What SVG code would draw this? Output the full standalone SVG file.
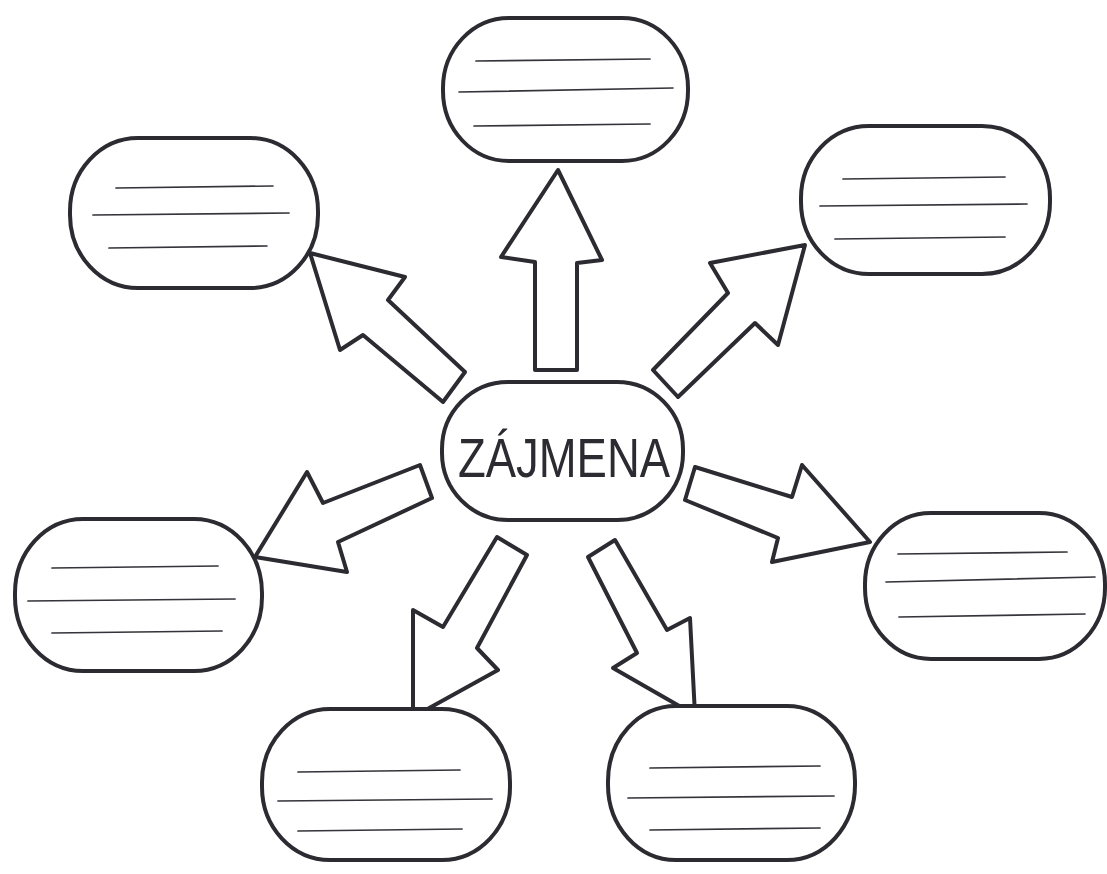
<svg xmlns="http://www.w3.org/2000/svg" width="1107" height="874" viewBox="0 0 1107 874">
  <style>
    .bubble { fill: #ffffff; stroke: #2b2b31; stroke-width: 4; }
    .rule { stroke: #34343a; stroke-width: 1.7; stroke-linecap: round; fill: none; }
    .arrow { fill: #ffffff; stroke: #2b2b31; stroke-width: 4; stroke-linejoin: round; }
    .title { font-family: "Liberation Sans", "DejaVu Sans", sans-serif; font-size: 56px; fill: #2b2b31; }
  </style>
  <rect width="1107" height="874" fill="#ffffff"/>

  <!-- block arrows radiating from the centre -->
  <g id="connectors">
    <polygon class="arrow" points="558,170 602,260 577,263 577,370 535,370 535,262 501,257"/>
    <polygon class="arrow" points="310,253 405,277 388,300 465,372 443,402 363,335 340,350"/>
    <polygon class="arrow" points="805,245 778,345 755,323 678,397 653,370 728,293 710,263"/>
    <polygon class="arrow" points="255,557 307,472 323,503 420,465 432,498 338,542 347,572"/>
    <polygon class="arrow" points="870,542 772,562 778,538 685,500 695,467 792,497 802,465"/>
    <polygon class="arrow" points="413,717 413,610 443,627 497,537 527,555 477,648 498,670"/>
    <polygon class="arrow" points="695,715 613,668 637,653 588,557 615,540 667,630 690,618"/>
  </g>

  <!-- centre node -->
  <g id="center">
    <rect class="bubble" x="442" y="382" width="241" height="138" rx="66" ry="67"/>
    <text class="title" x="458" y="477" textLength="212" lengthAdjust="spacingAndGlyphs">ZÁJMENA</text>
  </g>

  <!-- empty answer bubbles with writing lines -->
  <g id="top">
    <rect class="bubble" x="443" y="18" width="245" height="143" rx="66" ry="70"/>
    <line class="rule" x1="476" y1="61" x2="650" y2="59"/>
    <line class="rule" x1="459" y1="92" x2="673" y2="88"/>
    <line class="rule" x1="474" y1="126" x2="650" y2="124"/>
  </g>

  <g id="top-left">
    <rect class="bubble" x="70" y="138" width="248" height="150" rx="68" ry="73"/>
    <line class="rule" x1="116" y1="188" x2="273" y2="186"/>
    <line class="rule" x1="93" y1="215" x2="289" y2="213"/>
    <line class="rule" x1="109" y1="248" x2="267" y2="246"/>
  </g>

  <g id="top-right">
    <rect class="bubble" x="801" y="126" width="249" height="148" rx="68" ry="72"/>
    <line class="rule" x1="843" y1="179" x2="1005" y2="177"/>
    <line class="rule" x1="820" y1="206" x2="1027" y2="204"/>
    <line class="rule" x1="835" y1="239" x2="1005" y2="237"/>
  </g>

  <g id="left">
    <rect class="bubble" x="15" y="519" width="247" height="152" rx="68" ry="74"/>
    <line class="rule" x1="52" y1="568" x2="218" y2="566"/>
    <line class="rule" x1="28" y1="601" x2="235" y2="599"/>
    <line class="rule" x1="52" y1="633" x2="222" y2="631"/>
  </g>

  <g id="right">
    <rect class="bubble" x="865" y="513" width="240" height="146" rx="66" ry="71"/>
    <line class="rule" x1="898" y1="554" x2="1067" y2="552"/>
    <line class="rule" x1="886" y1="582" x2="1095" y2="577"/>
    <line class="rule" x1="899" y1="617" x2="1085" y2="614"/>
  </g>

  <g id="bottom-left">
    <rect class="bubble" x="262" y="709" width="248" height="151" rx="68" ry="73"/>
    <line class="rule" x1="298" y1="772" x2="460" y2="770"/>
    <line class="rule" x1="278" y1="801" x2="492" y2="799"/>
    <line class="rule" x1="298" y1="831" x2="462" y2="829"/>
  </g>

  <g id="bottom-right">
    <rect class="bubble" x="608" y="706" width="247" height="154" rx="68" ry="75"/>
    <line class="rule" x1="650" y1="768" x2="820" y2="766"/>
    <line class="rule" x1="628" y1="798" x2="834" y2="796"/>
    <line class="rule" x1="650" y1="830" x2="820" y2="828"/>
  </g>
</svg>
